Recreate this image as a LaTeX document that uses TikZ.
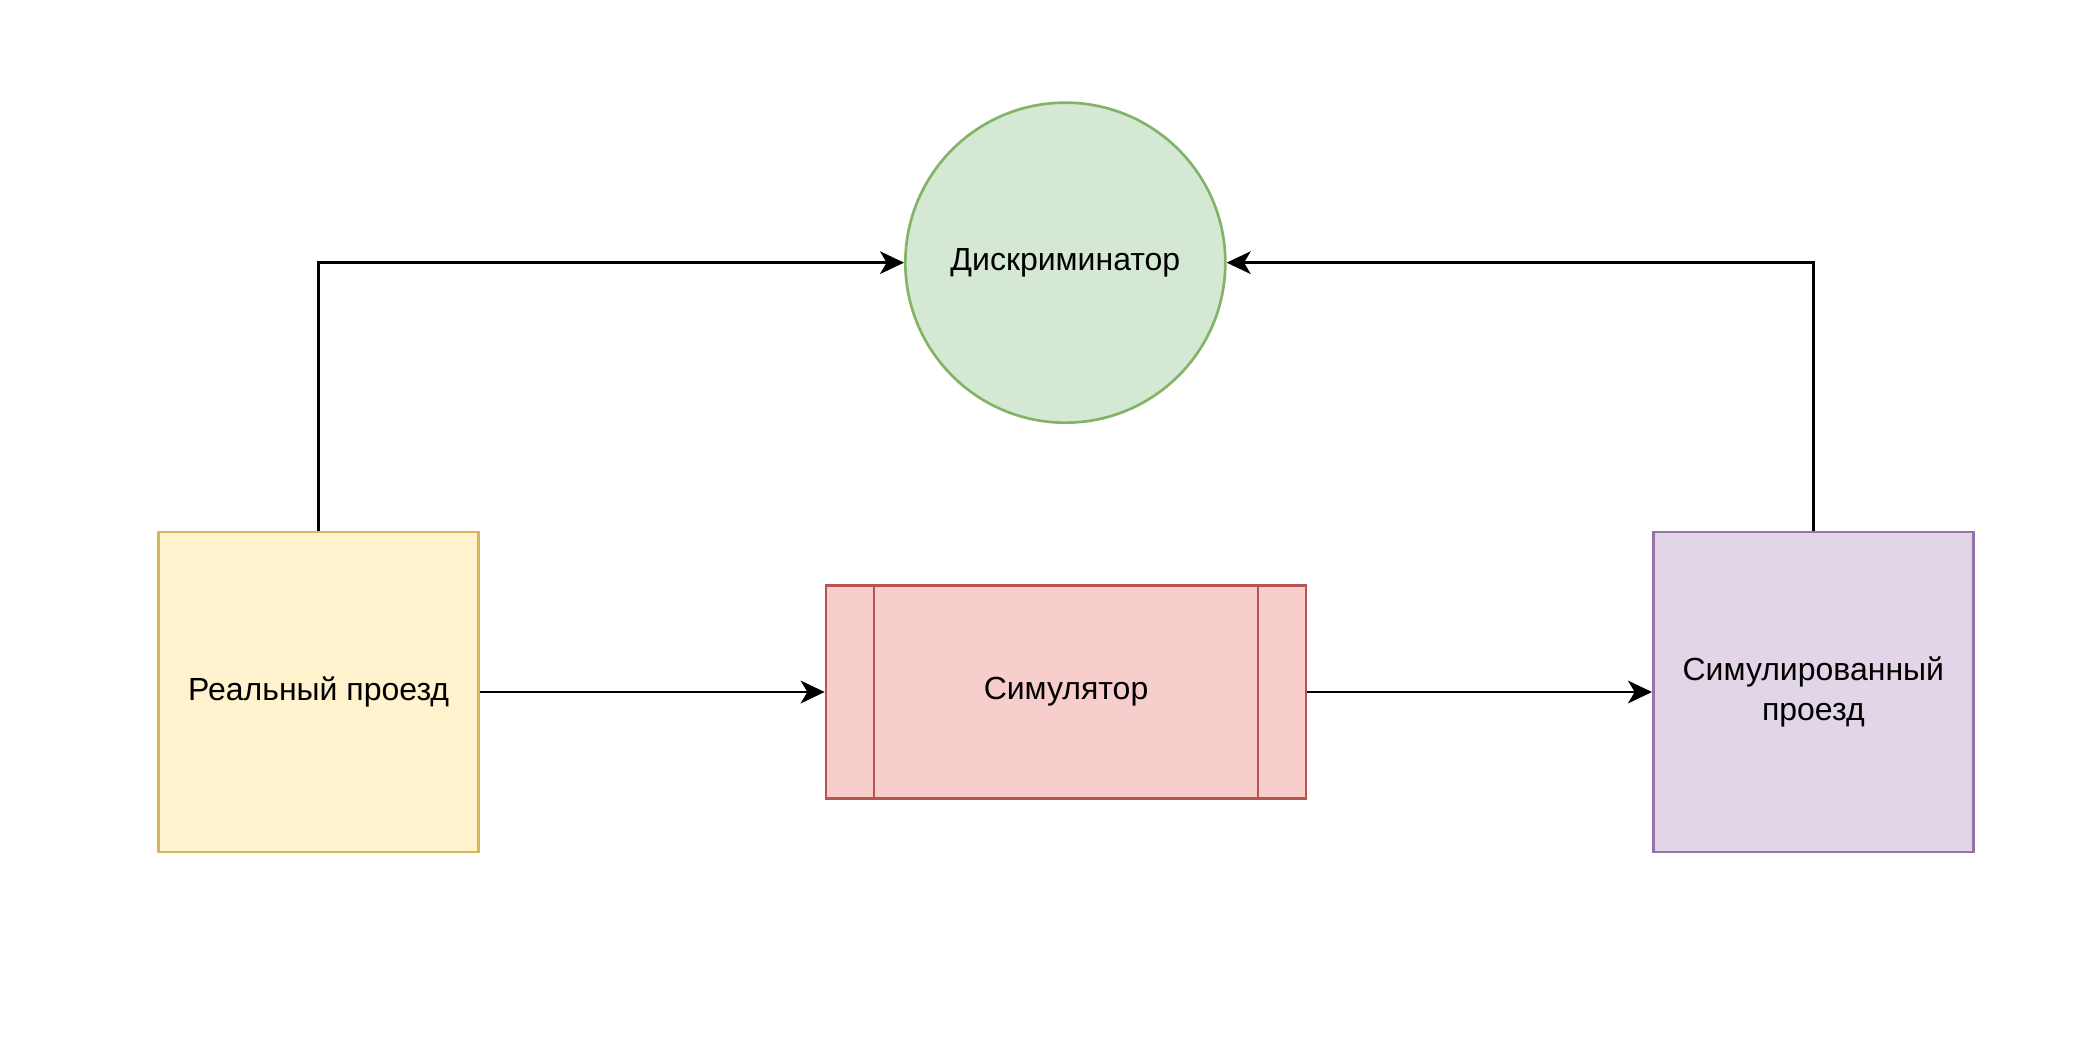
\documentclass[tikz,border=0pt]{standalone}
\usepackage{fontspec}
\setmainfont{Liberation Sans}
\usepackage{tikz}
\usetikzlibrary{positioning, arrows.meta}

\definecolor{yelfill}{HTML}{FFF2CC}
\definecolor{yelline}{HTML}{D6B656}
\definecolor{grnfill}{HTML}{D5E8D4}
\definecolor{grnline}{HTML}{82B366}
\definecolor{redfill}{HTML}{F8CECC}
\definecolor{redline}{HTML}{B85450}
\definecolor{purfill}{HTML}{E1D5E7}
\definecolor{purline}{HTML}{9673A6}

\begin{document}
\begin{tikzpicture}[
        x=1pt, y=1pt,
        every node/.style = {font=\fontsize{12}{15}\selectfont, align=center},
        block/.style = {draw=#1line, fill=#1fill, line width=1pt, minimum width=120pt, minimum height=120pt, inner sep=0pt},
        disc/.style = {draw=grnline, fill=grnfill, line width=1pt, circle, minimum size=120pt, inner sep=0pt},
        proc/.style = {draw=redline, fill=redfill, line width=1pt, minimum width=180pt, minimum height=80pt, inner sep=0pt,
            path picture={
                \draw[redline, line width=1pt] ([xshift=18pt]path picture bounding box.north west) -- ([xshift=18pt]path picture bounding box.south west);
                \draw[redline, line width=1pt] ([xshift=-18pt]path picture bounding box.north east) -- ([xshift=-18pt]path picture bounding box.south east);
            }},
        link/.style = {line width=1pt, -{Stealth[length=9pt, width=8.5pt, inset=2.5pt]}},
        ]
        \useasboundingbox (0,0) rectangle (786,-390.75);

        \node[disc] (disc) at (399.5,-98.5) {Дискриминатор};
        \node[block=yel] (real) at (119.5,-259.5) {Реальный проезд};
        \node[proc] (sim) at (399.75,-259.5) {Симулятор};
        \node[block=pur] (simout) at (680,-259.5) {Симулированный\\проезд};

        \draw[link] (real) -- (sim);
        \draw[link] (sim) -- (simout);
        \draw[link] (real.north) |- (disc.west);
        \draw[link] (simout.north) |- (disc.east);
    \end{tikzpicture}
\end{document}
